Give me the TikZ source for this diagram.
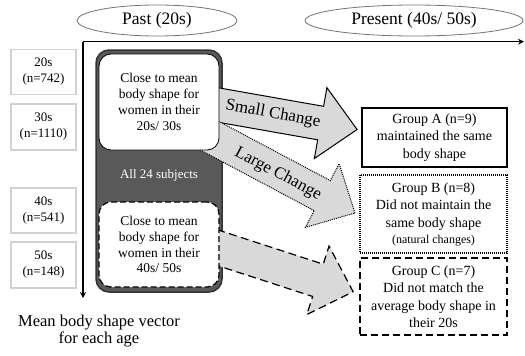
\documentclass[tikz,border=0pt]{standalone}
\usepackage{fontspec}
\setmainfont{Liberation Serif}
\usetikzlibrary{arrows.meta,shapes.geometric}
\newcommand\fatarrowpath[1]{(0,-17) -- ({#1-37},-17) -- ({#1-37},-36) -- (#1,0) -- ({#1-37},36) -- ({#1-37},17) -- (0,17) -- cycle}
\begin{document}
\begin{tikzpicture}[x=1pt,y=-1pt,
  agebox/.style={draw=black!18, line width=1.2pt, minimum width=65pt, minimum height=45pt, align=center, inner sep=0pt, font=\fontsize{13}{16}\selectfont},
  period/.style={ellipse, draw=black!55, line width=0.8pt, inner sep=0pt, font=\fontsize{17.5}{20}\selectfont},
  axisline/.style={line width=1.3pt, -{Stealth[length=6pt,width=6pt]}},
  fatarrow/.style={fill=black!15, draw=black, line width=1pt, line join=miter},
  changelbl/.style={inner sep=0pt, font=\fontsize{17}{20}\selectfont},
  whitebox/.style={fill=white, draw=black, line width=0.8pt, rounded corners=12pt, align=center, inner sep=0pt, font=\fontsize{13.5}{15.8}\selectfont},
  groupbox/.style={draw=black, fill=white, align=center, inner sep=0pt, font=\fontsize{14}{17.5}\selectfont},
]
\useasboundingbox (0,0) rectangle (525,356);

% period labels
\node[period, minimum width=160pt, minimum height=31pt] (past) at (157,20.5) {Past (20s)};
\node[period, minimum width=218pt, minimum height=31pt] (present) at (414,20.5) {Present (40s/ 50s)};

% axes
\coordinate (o) at (83,41.7);
\coordinate (xe) at (524,41.7);
\coordinate (ye) at (83,298);
\draw[axisline] (o) -- (xe);
\draw[axisline] (o) -- (ye);

% age boxes
\node[agebox] (a20) at (43.5,72) {20s\\(n=742)};
\node[agebox, minimum height=46pt] (a30) at (43.5,127) {30s\\(n=1110)};
\node[agebox] (a40) at (43.5,210.5) {40s\\(n=541)};
\node[agebox, minimum height=46pt] (a50) at (43.5,265) {50s\\(n=148)};
\node[font=\fontsize{16.5}{17}\selectfont, align=center] (meanlbl) at (99,331) {Mean body shape vector\\for each age};

% dark container
\node[draw=black!80, fill=black!65, line width=1.5pt, rounded corners=13pt, minimum width=126pt, minimum height=242pt] (all) at (159,171) {};

% change arrows
\begin{scope}[shift={(200,101.8)}, rotate=-10]
  \draw[fatarrow] \fatarrowpath{159.5};
\end{scope}
\begin{scope}[shift={(200,130.6)}, rotate=-28]
  \draw[fatarrow, dash pattern=on 1pt off 1pt] \fatarrowpath{175.5};
\end{scope}
\begin{scope}[shift={(200,242)}, rotate=-18]
  \draw[fatarrow, line width=1.2pt, dash pattern=on 8pt off 4.5pt] \fatarrowpath{161};
\end{scope}
\node[changelbl, rotate=-10] (small) at (273,114) {Small Change};
\node[changelbl, rotate=-28] (large) at (278,174) {Large Change};

% inner boxes
\node[whitebox, minimum width=120pt, minimum height=96pt] (top) at (159,102) {Close to mean\\body shape for\\women in their\\20s/ 30s};
\node[whitebox, minimum width=120pt, minimum height=85pt, line width=1.2pt, dash pattern=on 6pt off 3pt] (bottom) at (159,244.5) {Close to mean\\body shape for\\women in their\\40s/ 50s};
\node[text=white, font=\fontsize{13}{16}\selectfont] (alltxt) at (159,175.5) {All 24 subjects};

% groups
\node[groupbox, line width=1.5pt, minimum width=145pt, minimum height=59pt] (ga) at (434.5,137.5) {Group A (n=9)\\maintained the same\\body shape};
\node[groupbox, line width=1.2pt, dash pattern=on 1pt off 1pt, minimum width=147pt, minimum height=78pt] (gb) at (433.5,214) {Group B (n=8)\\Did not maintain the\\same body shape\\[-1.5pt]{\fontsize{12}{14}\selectfont(natural changes)}};
\node[groupbox, line width=1.3pt, dash pattern=on 7pt off 4pt, minimum width=147pt, minimum height=77pt] (gc) at (433.5,296.5) {Group C (n=7)\\Did not match the\\average body shape in\\their 20s};
\end{tikzpicture}
\end{document}
